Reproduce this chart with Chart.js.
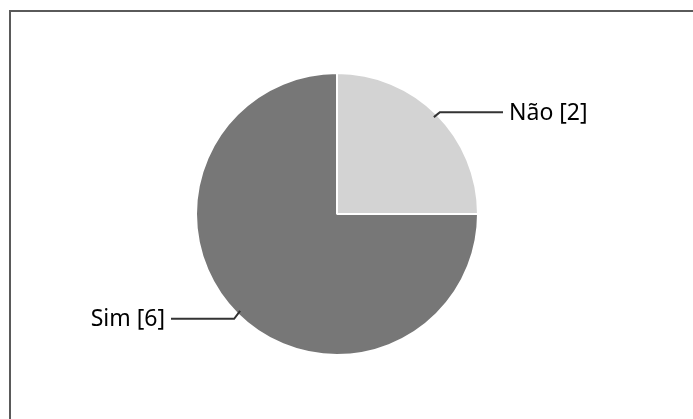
<!DOCTYPE html>
<html>
<head>
<meta charset="utf-8">
<script src="https://cdn.jsdelivr.net/npm/chart.js@4"></script>
<style>
  html, body { margin: 0; padding: 0; background: #fff; }
  #wrap { position: relative; width: 693px; height: 419px; overflow: hidden; }
  #frame { position: absolute; left: 9px; top: 10px; right: -10px; bottom: -10px;
           border-left: 2px solid #5a5a5a; border-top: 2px solid #5a5a5a; }
  canvas { position: absolute; left: 0; top: 0; }
</style>
</head>
<body>
<div id="wrap">
  <div id="frame"></div>
  <canvas id="myChart" width="693" height="419"></canvas>
</div>
<script>
const labels = ['Não', 'Sim'];
const values = [2, 6];
const colors = ['rgb(211,211,211)', 'rgb(119,119,119)'];

// draws "Label [n]" with an elbow leader line for every slice
const leaderLabels = {
    id: 'leaderLabels',
    afterDatasetsDraw(chart) {
        const ctx = chart.ctx;
        const meta = chart.getDatasetMeta(0);
        ctx.save();
        ctx.font = '23px "Noto Sans", sans-serif';
        ctx.textBaseline = 'middle';
        meta.data.forEach((arc, i) => {
            const mid = (arc.startAngle + arc.endAngle) / 2;
            const r = arc.outerRadius - 4;
            const x0 = arc.x + Math.cos(mid) * r;
            const y0 = arc.y + Math.sin(mid) * r;
            const right = Math.cos(mid) >= 0;
            const dir = right ? 1 : -1;
            const y1 = y0 + (Math.sin(mid) < 0 ? -5 : 8);
            const x1 = x0 + dir * 6;
            const x2 = arc.x + dir * 166;
            ctx.strokeStyle = '#333';
            ctx.lineWidth = 2;
            ctx.beginPath();
            ctx.moveTo(x0, y0);
            ctx.lineTo(x1, y1);
            ctx.lineTo(x2, y1);
            ctx.stroke();
            ctx.fillStyle = '#000';
            ctx.textAlign = right ? 'left' : 'right';
            ctx.fillText(labels[i] + ' [' + values[i] + ']', x2 + dir * 6, y1 + 1);
        });
        ctx.restore();
    }
};

const data = {
    labels: labels,
    datasets: [{
        data: values,
        backgroundColor: colors,
        borderColor: '#fff',
        borderWidth: 2
    }]
};

const config = {
    type: 'pie',
    data: data,
    options: {
        responsive: false,
        animation: false,
        layout: { padding: { top: 72, bottom: 63, left: 98, right: 117 } },
        plugins: {
            legend: { display: false },
            tooltip: { enabled: false }
        }
    },
    plugins: [leaderLabels]
};

const myChart = new Chart(document.getElementById('myChart'), config);
</script>
</body>
</html>
